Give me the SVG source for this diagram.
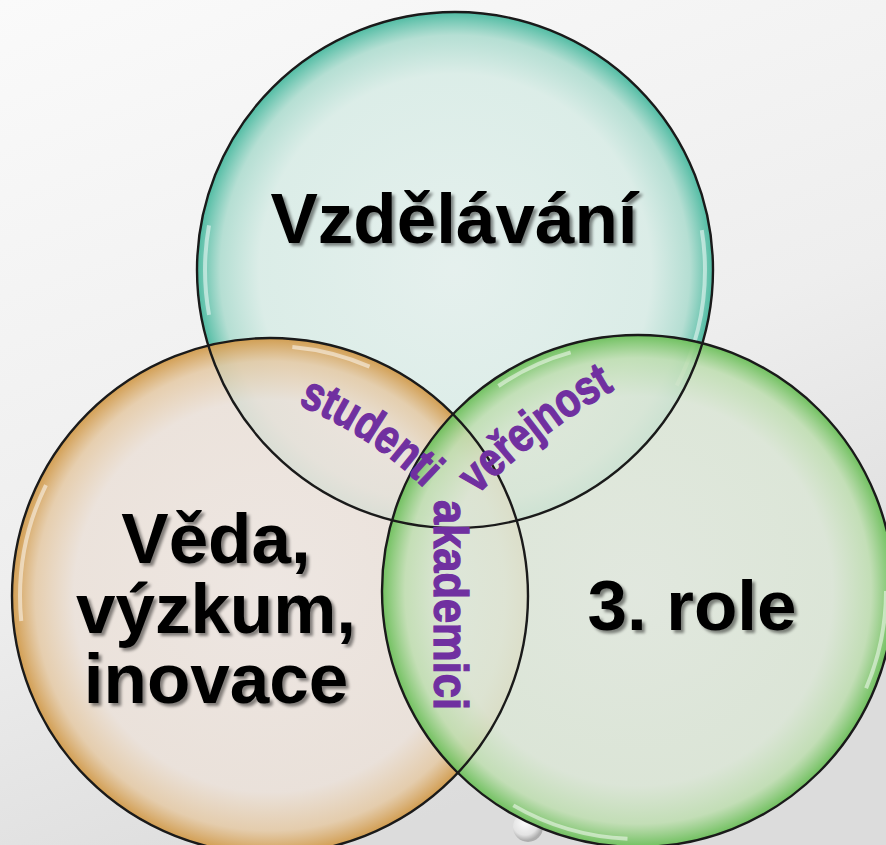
<svg xmlns="http://www.w3.org/2000/svg" xmlns:xlink="http://www.w3.org/1999/xlink" width="886" height="845" viewBox="0 0 886 845">
<style>
.main{font-family:"Liberation Sans",Arial,sans-serif;font-weight:bold;font-size:71px;fill:#000;text-anchor:middle}
.sub{font-family:"Liberation Sans",Arial,sans-serif;font-weight:bold;font-size:48px;fill:#7030a0;stroke:#7030a0;stroke-width:1.3}
.edge{fill:none;stroke:#1a1a1a;stroke-width:2.4}
.gloss{fill:none;stroke:#ffffff;stroke-opacity:0.5;stroke-width:4}
</style>
<defs>
<linearGradient id="bg" x1="0" y1="0" x2="0.4" y2="1">
<stop offset="0" stop-color="#fafafa"/>
<stop offset="0.6" stop-color="#eeeeee"/>
<stop offset="1" stop-color="#dcdcdc"/>
</linearGradient>
<radialGradient id="gTeal" cx="0.5" cy="0.5" r="0.5">
<stop offset="0" stop-color="#e4f0ed" stop-opacity="0.9"/>
<stop offset="0.76" stop-color="#d8ece6" stop-opacity="0.88"/>
<stop offset="0.91" stop-color="#addccf" stop-opacity="0.88"/>
<stop offset="1" stop-color="#48b99f" stop-opacity="0.95"/>
</radialGradient>
<radialGradient id="gOrange" cx="0.5" cy="0.5" r="0.5">
<stop offset="0" stop-color="#eee6e1" stop-opacity="0.9"/>
<stop offset="0.76" stop-color="#ebe1d9" stop-opacity="0.88"/>
<stop offset="0.91" stop-color="#e5caa6" stop-opacity="0.88"/>
<stop offset="1" stop-color="#d19a4a" stop-opacity="0.95"/>
</radialGradient>
<radialGradient id="gGreen" cx="0.5" cy="0.5" r="0.5">
<stop offset="0" stop-color="#e1e8de" stop-opacity="0.9"/>
<stop offset="0.76" stop-color="#dbe6d6" stop-opacity="0.88"/>
<stop offset="0.91" stop-color="#bfdeb1" stop-opacity="0.88"/>
<stop offset="1" stop-color="#6bbf59" stop-opacity="0.95"/>
</radialGradient>
<radialGradient id="gDrop" cx="0.4" cy="0.35" r="0.6">
<stop offset="0" stop-color="#ffffff"/>
<stop offset="0.7" stop-color="#e4e4e4"/>
<stop offset="1" stop-color="#a8a8a8"/>
</radialGradient>
<filter id="shadow" x="-10%" y="-20%" width="120%" height="150%">
<feDropShadow dx="3" dy="3" stdDeviation="1.8" flood-color="#000" flood-opacity="0.45"/>
</filter>
<path id="pStud" d="M298,405 A400,400 0 0 1 424,488"/>
<path id="pVer" d="M477,495 A650,650 0 0 1 614,390"/>
</defs>
<rect width="886" height="845" fill="url(#bg)"/>
<circle cx="528" cy="827" r="15" fill="url(#gDrop)" opacity="0.9"/>

<g id="node-vzdelavani">
<circle cx="455" cy="270" r="258" fill="url(#gTeal)"/>
<circle cx="455" cy="270" r="250" class="gloss" stroke-dasharray="120 260 60 300 90 700"/>
<text class="main" x="454" y="243" filter="url(#shadow)">Vzdělávání</text>
</g>
<g id="node-veda">
<circle cx="270" cy="596" r="258" fill="url(#gOrange)"/>
<circle cx="270" cy="596" r="250" class="gloss" stroke-dasharray="0 760 140 300 80 700"/>
<text class="main" x="216" y="563" filter="url(#shadow)">Věda,</text>
<text class="main" x="216" y="633" filter="url(#shadow)">výzkum,</text>
<text class="main" x="216" y="703" filter="url(#shadow)">inovace</text>
</g>
<g id="node-role">
<circle cx="638" cy="591" r="256" fill="url(#gGreen)"/>
<circle cx="638" cy="591" r="248" class="gloss" stroke-dasharray="100 300 120 500 80 900"/>
<text class="main" x="692" y="630" filter="url(#shadow)">3. role</text>
</g>

<g id="connectors">
<circle cx="455" cy="270" r="258" class="edge"/>
<circle cx="270" cy="596" r="258" class="edge"/>
<circle cx="638" cy="591" r="256" class="edge"/>
</g>

<g id="label-studenti">
<text class="sub"><textPath xlink:href="#pStud" href="#pStud" textLength="152" lengthAdjust="spacingAndGlyphs">studenti</textPath></text>
</g>
<g id="label-verejnost">
<text class="sub"><textPath xlink:href="#pVer" href="#pVer" textLength="174" lengthAdjust="spacingAndGlyphs">veřejnost</textPath></text>
</g>
<g id="label-akademici">
<text class="sub" transform="translate(434,500) rotate(90)" x="0" y="0" textLength="210" lengthAdjust="spacingAndGlyphs">akademici</text>
</g>
</svg>
